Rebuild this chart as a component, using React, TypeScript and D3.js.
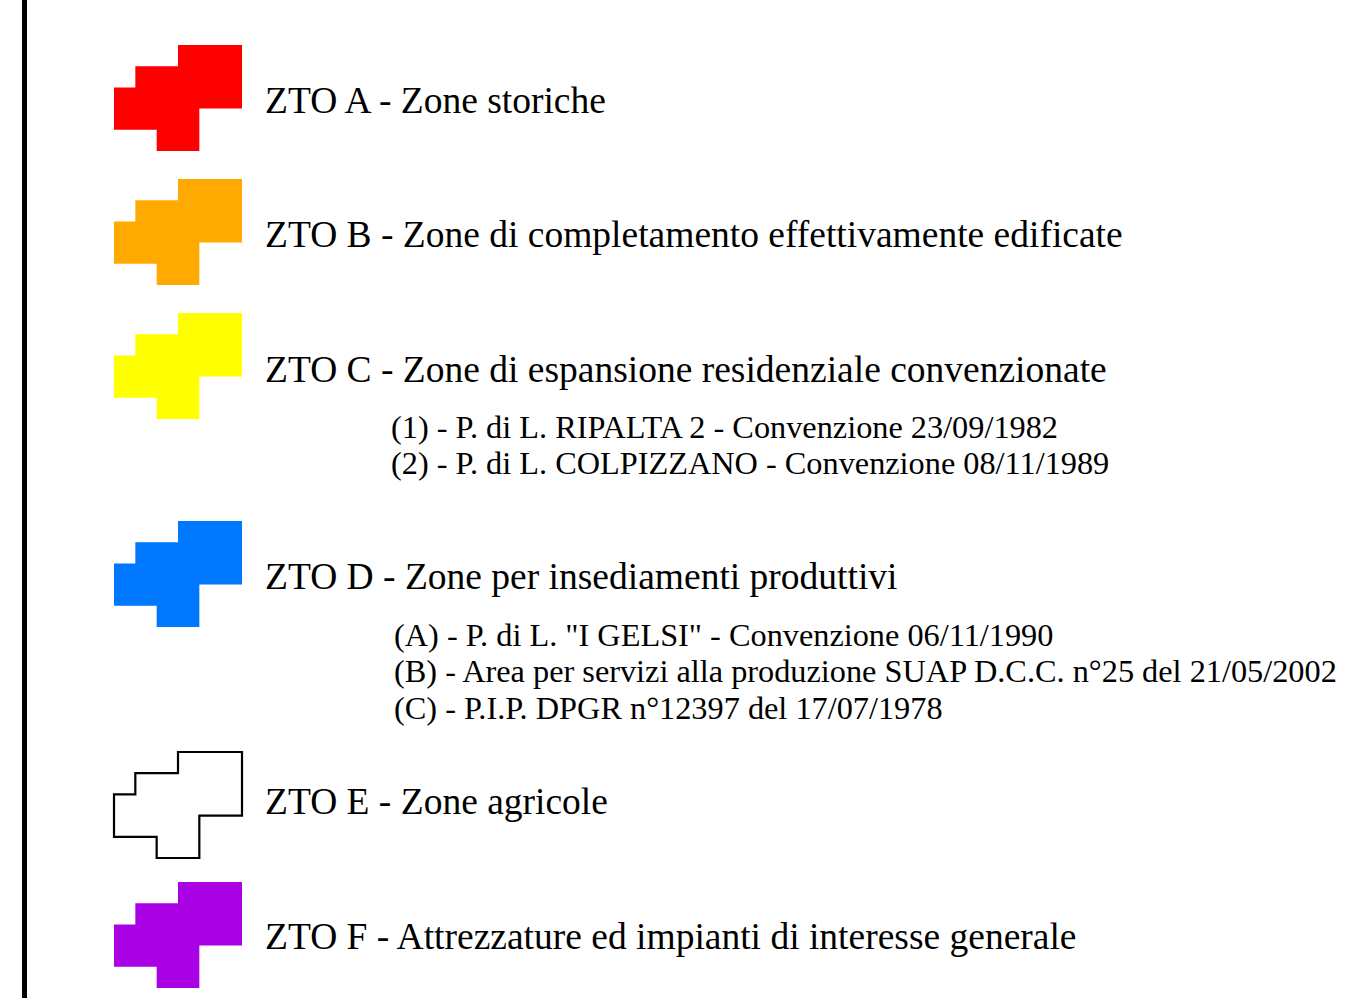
import React, { useEffect, useRef } from 'react';
import * as d3 from 'd3';

const zoneLabels = [
  'ZTO A - Zone storiche',
  'ZTO B - Zone di completamento effettivamente edificate',
  'ZTO C - Zone di espansione residenziale convenzionate',
  'ZTO D - Zone per insediamenti produttivi',
  'ZTO E - Zone agricole',
  'ZTO F - Attrezzature ed impianti di interesse generale',
];
const zoneColors = ['#ff0000', '#ffaa00', '#ffff00', '#0077ff', 'none', '#aa00e4'];
const zoneSubItems = [
  [],
  [],
  ['(1) - P. di L. RIPALTA 2 - Convenzione 23/09/1982', '(2) - P. di L. COLPIZZANO - Convenzione 08/11/1989'],
  [
    '(A) - P. di L. "I GELSI" - Convenzione 06/11/1990',
    '(B) - Area per servizi alla produzione SUAP D.C.C. n°25 del 21/05/2002',
    '(C) - P.I.P. DPGR n°12397 del 17/07/1978',
  ],
  [],
  [],
];
// stepped symbol outline, in grid units
const symbolShape: [number, number][] = [
  [3, 0], [6, 0], [6, 3], [4, 3], [4, 5], [2, 5], [2, 4], [0, 4], [0, 2], [1, 2], [1, 1], [3, 1],
];

// layout
const zoneTops = [45, 179, 313, 521, 752, 882];
const labelOffsets = [68, 68, 69, 68, 62, 67];
const subX = [392, 392, 391, 394, 392, 392];

function App() {
  const ref = useRef<SVGSVGElement>(null);

  useEffect(() => {
    const svg = d3.select(ref.current);
    svg.selectAll('*').remove();

    const font = '"Liberation Serif", "Times New Roman", serif';

    svg.append('rect')
      .attr('x', 22).attr('y', 0)
      .attr('width', 5).attr('height', 998)
      .attr('fill', '#000');

    const x = d3.scaleLinear().domain([0, 6]).range([0, 128]);
    const y = d3.scaleLinear().domain([0, 5]).range([0, 106]);
    const line = d3.line<[number, number]>()
      .x(d => x(d[0]))
      .y(d => y(d[1]))
      .curve(d3.curveLinearClosed);

    const g = svg.selectAll('.zone')
      .data(zoneLabels)
      .enter().append('g')
      .attr('class', 'zone')
      .attr('transform', (d, i) => `translate(0,${zoneTops[i]})`);

    g.append('path')
      .attr('transform', 'translate(114,0)')
      .attr('d', line(symbolShape))
      .attr('fill', (d, i) => zoneColors[i] === 'none' ? 'none' : zoneColors[i])
      .attr('stroke', (d, i) => zoneColors[i] === 'none' ? '#000' : 'none')
      .attr('stroke-width', 2.2);

    g.append('text')
      .attr('x', 265).attr('y', (d, i) => labelOffsets[i])
      .attr('font-family', font)
      .attr('font-size', 37.5)
      .attr('fill', '#000')
      .text(d => d);

    g.each(function (d, i) {
      d3.select(this).selectAll('.sub')
        .data(zoneSubItems[i])
        .enter().append('text')
        .attr('class', 'sub')
        .attr('x', subX[i])
        .attr('y', (s, j) => 125 + j * 36.4)
        .attr('font-family', font)
        .attr('font-size', 32.3)
        .attr('fill', '#000')
        .text(s => s);
    });
  }, []);

  return (
    <svg ref={ref} width={1360} height={998}
      style={{ position: 'absolute', left: 0, top: 0, background: '#fff' }} />
  );
}

export default App;
